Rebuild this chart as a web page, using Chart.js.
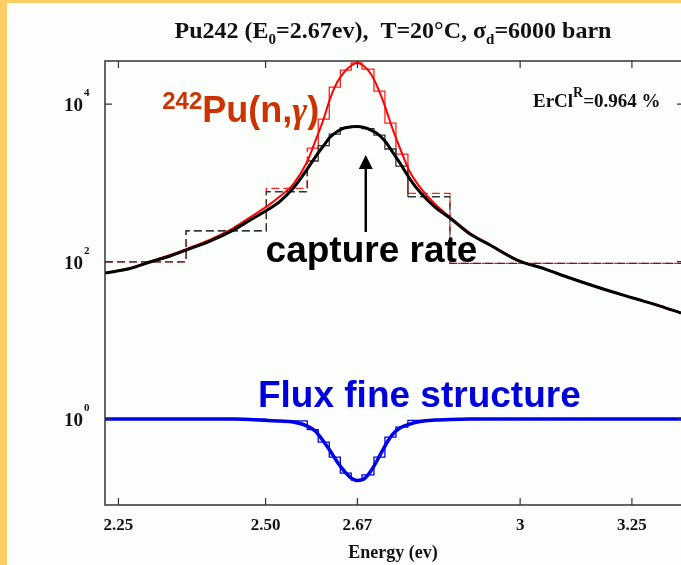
<!DOCTYPE html>
<html>
<head>
<meta charset="utf-8">
<script src="https://cdn.jsdelivr.net/npm/chart.js@4.4.1/dist/chart.umd.min.js"></script>
<style>
  body { margin: 0; background: #ffcc66; }
  #wrap { position: absolute; left: 7px; top: 3px; width: 674px; height: 562px; background: #fcfefc; }
</style>
</head>
<body>
<div id="wrap"><canvas id="grafico" width="674" height="562"></canvas></div>
<script>
// energy grid (eV) and the three curves
var energy = [2.2284, 2.2687, 2.3014, 2.3347, 2.3616, 2.4025, 2.4429, 2.4728, 2.5031, 2.5265,
  2.5501, 2.5758, 2.5906, 2.6055, 2.6186, 2.6317, 2.6449, 2.6582, 2.67, 2.6824,
  2.6959, 2.7095, 2.7231, 2.7368, 2.7525, 2.7723, 2.7922, 2.8224, 2.8529, 2.8941,
  2.9359, 2.9932, 3.0539, 3.1024, 3.1766, 3.2525, 3.316, 3.3663];
var captureRate = [71.4, 81.5, 98.6, 117.5, 140, 182, 251, 337, 451, 586,
  858, 1495, 2124, 2930, 3810, 4477, 4957, 5131, 5178, 5032,
  4675, 4157, 3388, 2530, 1782, 1116, 763, 492, 357, 223,
  162, 104.5, 80.3, 63.6, 46.1, 34.4, 27.2, 22.2];
var crossSection = [71.4, 83, 100, 121, 144, 190, 266, 366, 506, 679,
  964, 1862, 3388, 6266, 11916, 19020, 25490, 30830, 33180, 30390,
  24040, 15970, 9430, 5100, 2762, 1370, 883, 537, 367, 230,
  164, 106, 81, 64, 46.5, 34.6, 27.4, 22.3];
var flux = [1.0, 1.0, 1.0, 1.0, 1.0, 1.0, 1.0, 0.985, 0.957, 0.943,
  0.916, 0.815, 0.704, 0.526, 0.392, 0.285, 0.219, 0.178, 0.166, 0.173,
  0.219, 0.311, 0.454, 0.626, 0.769, 0.864, 0.93, 0.971, 0.99, 1.0,
  1.0, 1.0, 1.0, 1.0, 1.0, 1.0, 1.0, 1.0];

// group (histogram) values, one per bin
var binEdges = [2.2284, 2.3616, 2.5013, 2.5758, 2.5961, 2.6167, 2.6375, 2.6582, 2.6787, 2.7018,
  2.7231, 2.7446, 2.7683, 2.8529, 3.3663];
var binCapture = [99, 246, 769, 1890, 2970, 4157, 5032, 5178, 4887, 4040, 2684, 1632, 665, 95];
var binSigma = [99, 246, 851, 2762, 6450, 16440, 27030, 33180, 27800, 14630, 5740, 2317, 735, 95];
var binFlux = [1.0, 1.0, 0.95, 0.736, 0.51, 0.329, 0.206, 0.168, 0.195, 0.329, 0.59, 0.791, 0.96, 1.0];
var coarseBins = [0, 1, 2, 12, 13];

var xTicks = [2.25, 2.5, 2.67, 3, 3.25];
var xTickLabels = ['2.25', '2.50', '2.67', '3', '3.25'];
var yTicks = [1, 100, 10000];
var yTickExp = ['0', '2', '4'];

function pts(xs, ys) {
  return xs.map(function (x, i) { return { x: x, y: ys[i] }; });
}
function histPts(vals) {
  var p = vals.map(function (v, i) { return { x: binEdges[i], y: v }; });
  p.push({ x: binEdges[binEdges.length - 1], y: vals[vals.length - 1] });
  return p;
}
var dashCoarse = function (c) { return coarseBins.indexOf(c.p0DataIndex) >= 0 ? [8, 4] : undefined; };

function richText(c, runs, x, y, align) {
  var w = 0;
  runs.forEach(function (r) { c.font = r.font; w += c.measureText(r.text).width; });
  var cx = align === 'center' ? x - w / 2 : x;
  runs.forEach(function (r) {
    c.font = r.font;
    c.fillStyle = r.color || '#111';
    c.fillText(r.text, cx, y + (r.dy || 0));
    cx += c.measureText(r.text).width;
  });
}

var serif = 'Liberation Serif';
var sans = 'Liberation Sans';

var decor = {
  id: 'decor',
  afterDatasetsDraw: function (chart) {
    var c = chart.ctx, a = chart.chartArea;
    var xs = chart.scales.x, ys = chart.scales.y;
    c.save();
    c.textBaseline = 'alphabetic';
    c.textAlign = 'left';

    // frame
    c.strokeStyle = '#333';
    c.lineWidth = 1.5;
    c.beginPath();
    c.moveTo(a.right + 5, a.top); c.lineTo(a.left, a.top); c.lineTo(a.left, a.bottom); c.lineTo(a.right + 5, a.bottom);
    c.stroke();
    c.lineWidth = 1.2;
    c.beginPath();
    xTicks.forEach(function (v) {
      var px = xs.getPixelForValue(v);
      c.moveTo(px, a.bottom); c.lineTo(px, a.bottom - 7);
      c.moveTo(px, a.top); c.lineTo(px, a.top + 7);
    });
    yTicks.forEach(function (v) {
      var py = ys.getPixelForValue(v);
      c.moveTo(a.left, py); c.lineTo(a.left + 7, py);
      c.moveTo(a.right, py); c.lineTo(a.right - 4, py);
    });
    c.stroke();

    // y labels 10^n
    yTicks.forEach(function (v, i) {
      var py = ys.getPixelForValue(v);
      c.font = 'bold 19px ' + serif;
      c.fillStyle = '#111';
      c.textAlign = 'right';
      c.fillText('10', a.left - 22, py + 7);
      c.textAlign = 'left';
      c.font = 'bold 11px ' + serif;
      c.fillText(yTickExp[i], a.left - 21, py - 8);
    });

    // title
    var tf = 'bold 24px ' + serif, sf = 'bold 15px ' + serif;
    richText(c, [
      { text: 'Pu242 (E', font: tf },
      { text: '0', font: sf, dy: 6 },
      { text: '=2.67ev),  T=20°C, σ', font: tf },
      { text: 'd', font: sf, dy: 6 },
      { text: '=6000 barn', font: tf }
    ], (a.left + a.right) / 2, 35, 'center');

    // annotations
    richText(c, [
      { text: '242', font: 'bold 24px ' + sans, color: '#cc3300', dy: -13 },
      { text: 'Pu(n,', font: 'bold 36px ' + sans, color: '#cc3300' },
      { text: 'γ', font: 'italic bold 36px ' + serif, color: '#cc3300' },
      { text: ')', font: 'bold 36px ' + sans, color: '#cc3300' }
    ], xs.getPixelForValue(2.3216), ys.getPixelForValue(5905));
    richText(c, [{ text: 'capture rate', font: 'bold 37px ' + sans, color: '#000' }],
      xs.getPixelForValue(2.5), ys.getPixelForValue(100));
    richText(c, [{ text: 'Flux fine structure', font: 'bold 37px ' + sans, color: '#0000dd' }],
      xs.getPixelForValue(2.4864), ys.getPixelForValue(1.42));
    richText(c, [
      { text: 'ErCl', font: 'bold 19px ' + serif },
      { text: 'R', font: 'bold 14px ' + serif, dy: -10 },
      { text: '=0.964 %', font: 'bold 19px ' + serif }
    ], xs.getPixelForValue(3.0277), ys.getPixelForValue(9160));

    // arrow
    var ax = xs.getPixelForValue(2.686);
    var y0 = ys.getPixelForValue(237), y1 = ys.getPixelForValue(2250);
    c.strokeStyle = '#000';
    c.lineWidth = 2.5;
    c.beginPath(); c.moveTo(ax, y0); c.lineTo(ax, y1 + 10); c.stroke();
    c.fillStyle = '#000';
    c.beginPath(); c.moveTo(ax, y1); c.lineTo(ax - 7, y1 + 14); c.lineTo(ax + 7, y1 + 14); c.closePath(); c.fill();
    c.restore();
  }
};

var ctx = document.getElementById('grafico').getContext('2d');
var grafico = new Chart(ctx, {
  type: 'scatter',
  data: {
    datasets: [
      { data: pts(energy, captureRate), showLine: true, borderColor: '#000', borderWidth: 3, pointRadius: 0, cubicInterpolationMode: 'monotone', order: 1 },
      { data: pts(energy, crossSection), showLine: true, borderColor: '#ff0000', borderWidth: 2, pointRadius: 0, cubicInterpolationMode: 'monotone', order: 2 },
      { data: pts(energy, flux), showLine: true, borderColor: '#0000e6', borderWidth: 3.5, pointRadius: 0, cubicInterpolationMode: 'monotone', order: 3 },
      { data: histPts(binCapture), showLine: true, stepped: true, borderColor: '#333', borderWidth: 1.3, pointRadius: 0, borderDash: [], segment: { borderDash: dashCoarse }, order: 4 },
      { data: histPts(binSigma), showLine: true, stepped: true, borderColor: '#ff2020', borderWidth: 1.3, pointRadius: 0, borderDash: [], segment: { borderDash: dashCoarse }, order: 5 },
      { data: histPts(binFlux), showLine: true, stepped: true, borderColor: '#0000e6', borderWidth: 1.3, pointRadius: 0, order: 6 }
    ]
  },
  options: {
    responsive: false,
    animation: false,
    devicePixelRatio: 1,
    layout: { padding: { top: 58, left: 0, right: 0, bottom: 0 } },
    scales: {
      x: {
        type: 'logarithmic',
        bounds: 'data',
        min: 2.2284,
        max: 3.3663,
        grid: { display: false },
        border: { display: false },
        afterBuildTicks: function (s) { s.ticks = xTicks.map(function (v) { return { value: v }; }); },
        afterFit: function (s) { s.height = 60; },
        ticks: {
          autoSkip: false, maxRotation: 0, padding: 2, color: '#111',
          font: { family: serif, size: 17, weight: 'bold' },
          callback: function (v, i) { return xTickLabels[i]; }
        },
        title: { display: true, text: 'Energy (ev)', color: '#111', font: { family: serif, size: 18, weight: 'bold' }, padding: { top: 0, bottom: 1 } }
      },
      y: {
        type: 'logarithmic',
        bounds: 'data',
        min: 0.081,
        max: 35200,
        grid: { display: false },
        border: { display: false },
        afterBuildTicks: function (s) { s.ticks = yTicks.map(function (v) { return { value: v }; }); },
        afterFit: function (s) { s.width = 98; },
        ticks: { display: false }
      }
    },
    plugins: {
      legend: { display: false },
      tooltip: { enabled: false }
    }
  },
  plugins: [decor]
});
</script>
</body>
</html>
